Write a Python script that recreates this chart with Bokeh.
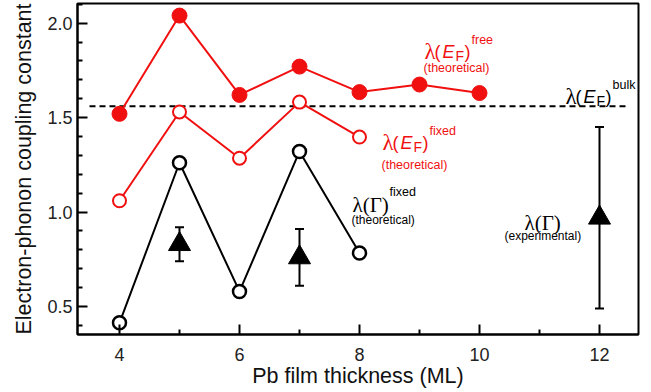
from bokeh.plotting import figure
from bokeh.models import Range1d, FixedTicker, PrintfTickFormatter, Whisker, TeeHead, ColumnDataSource
from bokeh.core.properties import value
from bokeh.embed import file_html
from bokeh.resources import INLINE

# ---- data ----
thickness_free = [4, 5, 6, 7, 8, 9, 10]
lambda_ef_free = [1.52, 2.04, 1.62, 1.77, 1.635, 1.675, 1.63]

thickness_fixed = [4, 5, 6, 7, 8]
lambda_ef_fixed = [1.06, 1.53, 1.285, 1.582, 1.397]
lambda_gamma_fixed = [0.414, 1.261, 0.58, 1.321, 0.783]

thickness_exp = [5, 7, 12]
lambda_gamma_exp = [0.83, 0.76, 0.97]
lambda_gamma_err = [0.09, 0.15, 0.48]

lambda_bulk = 1.56
bulk_extent = [3.5, 12.45]

x_ticks = [4, 6, 8, 10, 12]
x_minor = [5, 7, 9, 11]
y_ticks = [0.5, 1.0, 1.5, 2.0]
y_minor = [0.4, 0.6, 0.7, 0.8, 0.9, 1.1, 1.2, 1.3, 1.4, 1.6, 1.7, 1.8, 1.9, 2.1]

RED = "#f01010"
SANS = "Liberation Sans"
SERIF = "Liberation Serif"

X0, X1 = 3.3, 12.65
Y0, Y1 = 0.352, 2.104
FL, FT, FW, FH = 77, 3, 561, 331

p = figure(frame_width=FW, frame_height=FH,
           x_range=Range1d(X0, X1), y_range=Range1d(Y0, Y1),
           output_backend="svg", toolbar_location=None,
           min_border_left=FL, min_border_right=651 - FL - FW,
           min_border_top=FT, min_border_bottom=392 - FT - FH)
p.xgrid.visible = False
p.ygrid.visible = False
p.outline_line_color = "black"
p.outline_line_width = 2
p.outline_line_alpha = 1.0
p.background_fill_color = "white"
p.border_fill_color = "white"

for ax in (p.xaxis[0], p.yaxis[0]):
    ax.axis_line_width = 2
    ax.major_tick_line_width = 2
    ax.minor_tick_line_width = 2
    ax.major_tick_in = 10
    ax.major_tick_out = 0
    ax.minor_tick_in = 5
    ax.minor_tick_out = 0
    ax.major_label_text_font = SANS
    ax.major_label_text_font_size = "18px"
    ax.major_label_text_color = "#222222"
    ax.axis_label_text_font = SANS
    ax.axis_label_text_font_size = "21.5px"
    ax.axis_label_text_font_style = "normal"
    ax.axis_label_text_color = "#111111"

p.xaxis.ticker = FixedTicker(ticks=x_ticks, minor_ticks=x_minor)
p.yaxis.ticker = FixedTicker(ticks=y_ticks, minor_ticks=y_minor)
p.xaxis.formatter = PrintfTickFormatter(format="%d")
p.yaxis.formatter = PrintfTickFormatter(format="%.1f")
p.xaxis.axis_label = "Pb film thickness (ML)"
p.yaxis.axis_label = "Electron-phonon coupling constant"
p.xaxis.major_label_standoff = 13
p.xaxis.axis_label_standoff = 0
p.yaxis.major_label_standoff = 5
p.yaxis.axis_label_standoff = 8

# bulk reference line
p.line(bulk_extent, [lambda_bulk, lambda_bulk], line_color="black", line_width=2, line_dash="6 4")

# error bars
src_exp = ColumnDataSource(dict(
    x=thickness_exp, y=lambda_gamma_exp,
    upper=[v + e for v, e in zip(lambda_gamma_exp, lambda_gamma_err)],
    lower=[v - e for v, e in zip(lambda_gamma_exp, lambda_gamma_err)]))
p.add_layout(Whisker(source=src_exp, base="x", upper="upper", lower="lower",
                     line_color="black", line_width=2,
                     upper_head=TeeHead(size=9, line_width=2, line_color="black"),
                     lower_head=TeeHead(size=9, line_width=2, line_color="black")))

# series
p.line(thickness_free, lambda_ef_free, line_color=RED, line_width=2)
p.scatter(thickness_free, lambda_ef_free, size=15, marker="circle", fill_color=RED, line_color=RED)

p.line(thickness_fixed, lambda_ef_fixed, line_color=RED, line_width=2)
p.scatter(thickness_fixed, lambda_ef_fixed, size=13, marker="circle", fill_color="white", line_color=RED, line_width=2)

p.line(thickness_fixed, lambda_gamma_fixed, line_color="black", line_width=2)
p.scatter(thickness_fixed, lambda_gamma_fixed, size=13, marker="circle", fill_color="white", line_color="black", line_width=2.5)

p.scatter("x", "y", source=src_exp, size=22, marker="triangle", fill_color="black", line_color="black")

# ---- annotation texts (pixel layout -> data coords) ----
PPX = FW / (X1 - X0)
PPY = FH / (Y1 - Y0)


def X(px):
    return X0 + (px - FL) / PPX


def Y(py):
    return Y1 - (py - FT) / PPY


def add_text(txt, px, py, font, size, color, style="normal"):
    p.text(x=[X(px)], y=[Y(py)], text=[txt], text_font=value(font), text_font_size=size,
           text_font_style=style, text_color=color, text_baseline="alphabetic", text_align="left")


def ef_label(px, py, sup, color):
    add_text("λ", px, py, SERIF, "23px", color)
    add_text("(", px + 10, py, SANS, "18px", color)
    add_text("E", px + 18, py, SANS, "18px", color, "italic")
    add_text("F", px + 31, py + 4, SANS, "14px", color)
    add_text(")", px + 40, py, SANS, "18px", color)
    add_text(sup, px + 47, py - 12, SANS, "12.5px", color)


ef_label(424, 51, "free", RED)
add_text("(theoretical)", 423, 67, SANS, "12.5px", RED)

ef_label(382, 142, "fixed", RED)
add_text("(theoretical)", 381, 164, SANS, "12.5px", RED)

ef_label(565, 96, "bulk", "black")

add_text("λ(Γ)", 352, 204, SERIF, "21px", "black")
add_text("fixed", 389, 191, SANS, "12.5px", "black")
add_text("(theoretical)", 351, 219, SANS, "12px", "black")

add_text("λ(Γ)", 524, 222, SERIF, "21px", "black")
add_text("(experimental)", 504, 235, SANS, "12px", "black")

open("out.html", "w").write(file_html(p, INLINE))
